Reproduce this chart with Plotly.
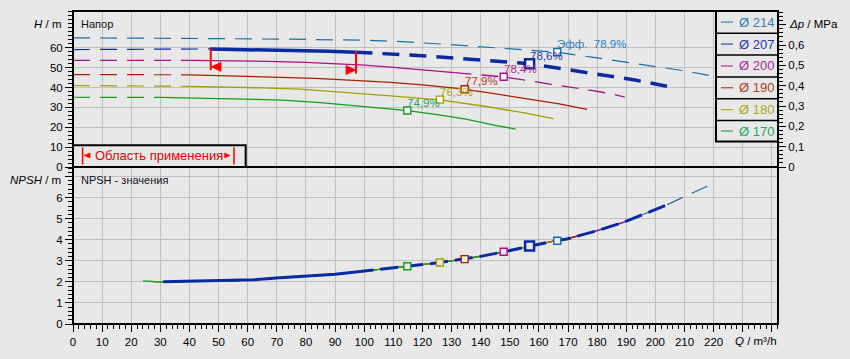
import plotly.graph_objects as go

# ---------------- data ----------------
diameters = ["Ø 214", "Ø 207", "Ø 200", "Ø 190", "Ø 180", "Ø 170"]
line_colors = ["#1670a8", "#0a2aa0", "#a8108e", "#a82000", "#a0a000", "#10a018"]
text_colors = ["#2a80b8", "#2a38a8", "#b0289a", "#b04020", "#a8a818", "#20a860"]

q214 = [0, 30, 50, 75, 90, 100, 111, 123, 131, 139, 151, 166, 178, 190, 199, 210, 220]
h214 = [65.0, 64.9, 64.6, 64.3, 64.1, 63.8, 63.2, 62.3, 61.5, 60.6, 59.2, 57.8, 55.3, 52.6, 50.7, 48.4, 45.7]

q207 = [0, 25, 47, 57, 68, 78, 88, 97, 113, 123, 134, 144, 157, 164, 174, 183, 193, 204]
h207 = [59.1, 59.2, 59.4, 59.2, 58.8, 58.6, 58.2, 57.8, 56.7, 55.7, 54.5, 53.2, 51.9, 50.3, 48.2, 46.3, 43.8, 40.6]

q200 = [0, 20, 40, 55, 67, 80, 90, 100, 109, 120, 131, 148, 157, 166, 176, 185, 189.5]
h200 = [53.7, 53.7, 53.7, 53.5, 53.2, 52.6, 52.0, 51.3, 50.3, 49.0, 47.5, 45.3, 43.3, 41.4, 39.0, 36.8, 35.2]

q190 = [0, 20, 40, 52, 66, 76, 83, 90, 96, 109, 120, 132, 143, 155, 167, 176.5]
h190 = [46.5, 46.5, 46.4, 46.0, 45.4, 44.9, 44.6, 44.1, 43.6, 42.6, 41.3, 39.6, 37.3, 34.5, 31.8, 29.0]

q180 = [0, 20, 40, 55, 65, 78, 90, 109, 126, 143, 155, 165]
h180 = [41.0, 40.9, 40.6, 40.2, 39.8, 39.2, 38.0, 35.8, 33.8, 30.2, 27.2, 24.3]

q170 = [0, 20, 30, 45, 60, 72, 85, 95, 109, 115, 125, 135, 145, 152]
h170 = [35.1, 35.1, 35.0, 34.5, 34.1, 33.7, 32.4, 31.0, 29.1, 28.4, 26.4, 24.1, 21.0, 19.1]

head_q = [q214, q207, q200, q190, q180, q170]
head_h = [h214, h207, h200, h190, h180, h170]

# operating (solid) range of each head curve; None = dashed everywhere
solid_from = [None, 47, 40, 40, 40, 30]
solid_to = [None, 97, 131, 176.5, 165, 152]

bep_q = [166.3, 156.8, 147.9, 134.5, 126.0, 114.8]
bep_h = [57.9, 52.0, 45.4, 39.1, 33.9, 28.4]
bep_label = ["Эфф.  78,9%", "78,6%", "78,4%", "77,9%", "76,3%", "74,9%"]
bep_npsh = [3.95, 3.70, 3.43, 3.08, 2.92, 2.74]

npsh_q = [24, 26, 28, 30, 31, 40, 55, 62, 71, 80, 90, 97, 100, 110, 115, 120, 126, 134.5, 140, 148, 152,
          157, 165, 170, 176.5, 180, 189.5, 197, 204, 210, 214, 220]
npsh_v = [2.05, 2.02, 2.01, 2.0, 2.0, 2.02, 2.05, 2.1, 2.19, 2.26, 2.36, 2.47, 2.52, 2.66, 2.74, 2.82, 2.92,
          3.08, 3.21, 3.43, 3.55, 3.70, 3.93, 4.05, 4.30, 4.43, 4.85, 5.25, 5.66, 6.05, 6.30, 6.68]
npsh_start = [31, 31, 30, 28, 26, 24]
npsh_end = [220, 204, 189.5, 176.5, 165, 152]

x_ticks = list(range(0, 241, 10))
x_ticklabels = [str(v) if v <= 220 else "" for v in x_ticks]
h_ticks = list(range(0, 61, 10))
npsh_ticks = list(range(0, 8))
npsh_ticklabels = [str(v) for v in range(0, 7)] + [""]
dp_ticks = [0, 0.1, 0.2, 0.3, 0.4, 0.5, 0.6, 0.7]
dp_ticklabels = ["0", "0,1", "0,2", "0,3", "0,4", "0,5", "0,6", ""]

# ---------------- styling ----------------
BG = "#e8e8e8"
GRID = "#c0c0c0"
FONT = "Liberation Sans, Arial, sans-serif"
W, H = 850, 359
ML, MR, MT, MB = 73, 72, 11, 33
PW, PH = W - ML - MR, H - MT - MB
split_px = 168
split = (MT + PH - split_px) / PH  # paper fraction of boundary


def py(ypx):
    return (MT + PH - ypx) / PH


def px(xpx):
    return (xpx - ML) / PW


def seg(q, v, a, b):
    qq, vv = [], []
    for qi, vi in zip(q, v):
        if a <= qi <= b:
            qq.append(qi)
            vv.append(vi)
    return qq, vv


DASH = "17px,10px"
fig = go.Figure()

# ---- head curves ----
order = [5, 4, 3, 2, 0, 1]
for i in order:
    q, h, c = head_q[i], head_h[i], line_colors[i]
    if solid_from[i] is None:
        fig.add_trace(go.Scatter(x=q, y=h, mode="lines", line=dict(color=c, width=1.2, dash=DASH),
                                 xaxis="x", yaxis="y", hoverinfo="skip"))
        continue
    a, b = solid_from[i], solid_to[i]
    thick = 3.5 if i == 1 else 1.3
    qq, hh = seg(q, h, 0, a)
    fig.add_trace(go.Scatter(x=qq, y=hh, mode="lines", line=dict(color=c, width=1.2, dash=DASH),
                             xaxis="x", yaxis="y", hoverinfo="skip"))
    qq, hh = seg(q, h, a, b)
    fig.add_trace(go.Scatter(x=qq, y=hh, mode="lines", line=dict(color=c, width=thick),
                             xaxis="x", yaxis="y", hoverinfo="skip"))
    qq, hh = seg(q, h, b, 1000)
    if len(qq) > 1:
        fig.add_trace(go.Scatter(x=qq, y=hh, mode="lines", line=dict(color=c, width=thick, dash=DASH),
                                 xaxis="x", yaxis="y", hoverinfo="skip"))

# ---- NPSH curves ----
for i in [0, 2, 3, 4, 5]:
    qq, vv = seg(npsh_q, npsh_v, npsh_start[i], npsh_end[i])
    fig.add_trace(go.Scatter(x=qq, y=vv, mode="lines",
                             line=dict(color=line_colors[i], width=1.2, dash=DASH if i == 0 else "solid"),
                             xaxis="x", yaxis="y2", hoverinfo="skip"))
qq, vv = seg(npsh_q, npsh_v, npsh_start[1], solid_to[1])
fig.add_trace(go.Scatter(x=qq, y=vv, mode="lines", line=dict(color=line_colors[1], width=3),
                         xaxis="x", yaxis="y2", hoverinfo="skip"))
qq, vv = seg(npsh_q, npsh_v, solid_to[1], npsh_end[1])
fig.add_trace(go.Scatter(x=qq, y=vv, mode="lines", line=dict(color=line_colors[1], width=3, dash="18px,7px"),
                         xaxis="x", yaxis="y2", hoverinfo="skip"))

# ---- BEP squares ----
for i in range(6):
    big = (i == 1)
    fig.add_trace(go.Scatter(x=[bep_q[i]], y=[bep_h[i]], mode="markers",
                             marker=dict(symbol="square", size=9 if big else 7, color="white",
                                         line=dict(color=line_colors[i], width=2.5 if big else 1.4)),
                             xaxis="x", yaxis="y", hoverinfo="skip"))
    fig.add_trace(go.Scatter(x=[bep_q[i]], y=[bep_npsh[i]], mode="markers",
                             marker=dict(symbol="square", size=9 if big else 7, color=BG,
                                         line=dict(color=line_colors[i], width=2.5 if big else 1.4)),
                             xaxis="x", yaxis="y2", hoverinfo="skip"))

# dummy trace for the right axis
fig.add_trace(go.Scatter(x=[0], y=[0], mode="markers", marker=dict(opacity=0), xaxis="x", yaxis="y3",
                         hoverinfo="skip"))

annotations = []
for i in range(6):
    annotations.append(dict(x=bep_q[i], y=bep_h[i], xref="x", yref="y", text=bep_label[i],
                            showarrow=False, xanchor="left", yanchor="middle", xshift=-2, yshift=8,
                            font=dict(family=FONT, size=11.5, color=text_colors[i])))

# panel labels
annotations += [
    dict(x=px(79), y=py(24.5), xref="paper", yref="paper", text="Напор", showarrow=False,
         xanchor="left", yanchor="middle", font=dict(family=FONT, size=11, color="#101020")),
    dict(x=px(79), y=py(181.5), xref="paper", yref="paper", text="NPSH - значения", showarrow=False,
         xanchor="left", yanchor="middle", font=dict(family=FONT, size=11, color="#101020")),
    dict(x=px(63), y=py(24.5), xref="paper", yref="paper", text="<i>H</i> / m", showarrow=False,
         xanchor="right", yanchor="middle", font=dict(family=FONT, size=11.5, color="black")),
    dict(x=px(63), y=py(181.5), xref="paper", yref="paper", text="<i>NPSH</i> / m", showarrow=False,
         xanchor="right", yanchor="middle", font=dict(family=FONT, size=11.5, color="black")),
    dict(x=px(787), y=py(24.5), xref="paper", yref="paper", text="<i>Δp</i> / MPa", showarrow=False,
         xanchor="left", yanchor="middle", font=dict(family=FONT, size=11.5, color="black")),
    dict(x=px(779), y=py(343), xref="paper", yref="paper", text="<i>Q</i> / m³/h", showarrow=False,
         xanchor="right", yanchor="middle", font=dict(family=FONT, size=11.5, color="black")),
    dict(x=29.5, y=5.9, xref="x", yref="y", text="Область применения", showarrow=False,
         xanchor="center", yanchor="middle", font=dict(family=FONT, size=13, color="#e00000")),
]

shapes = []
RED = "#ff0000"
# application range markers on Ø207 curve
shapes += [
    dict(type="line", xref="x", yref="y", x0=47.3, x1=47.3, y0=48.7, y1=59.6, line=dict(color=RED, width=2)),
    dict(type="path", xref="x", yref="y", path="M 47.5,50.4 L 50.8,52.6 L 50.8,48.2 Z",
         fillcolor=RED, line=dict(color=RED, width=1)),
    dict(type="line", xref="x", yref="y", x0=97.2, x1=97.2, y0=47.0, y1=58.2, line=dict(color=RED, width=2)),
    dict(type="path", xref="x", yref="y", path="M 96.9,48.8 L 93.8,51.0 L 93.8,46.6 Z",
         fillcolor=RED, line=dict(color=RED, width=1)),
]
# "Область применения" box
shapes += [
    dict(type="rect", xref="x", yref="y", x0=0, x1=59.3, y0=0, y1=11, fillcolor=BG,
         line=dict(color="black", width=2), layer="above"),
    dict(type="line", xref="x", yref="y", x0=3.3, x1=3.3, y0=1.3, y1=9.9, line=dict(color=RED, width=1.5)),
    dict(type="path", xref="x", yref="y", path="M 3.7,5.8 L 5.9,7.1 L 5.9,4.5 Z", fillcolor=RED,
         line=dict(color=RED, width=0.5)),
    dict(type="line", xref="x", yref="y", x0=55.3, x1=55.3, y0=1.3, y1=9.9, line=dict(color=RED, width=1.5)),
    dict(type="path", xref="x", yref="y", path="M 54.0,5.8 L 52.0,7.1 L 52.0,4.5 Z", fillcolor=RED,
         line=dict(color=RED, width=0.5)),
]
# legend box
lx0, lx1 = px(716), 1.0
row_edges = [11, 33.3, 55.3, 77.3, 99.3, 121.3, 142.3]
shapes.append(dict(type="rect", xref="paper", yref="paper", x0=lx0, x1=lx1, y0=py(row_edges[-1]), y1=1,
                   fillcolor=BG, line=dict(color="black", width=2), layer="above"))
for k in range(1, 6):
    shapes.append(dict(type="line", xref="paper", yref="paper", x0=lx0, x1=lx1, y0=py(row_edges[k]),
                       y1=py(row_edges[k]), line=dict(color="black", width=1.5), layer="above"))
for k, name in enumerate(diameters):
    yc = (row_edges[k] + row_edges[k + 1]) / 2
    shapes.append(dict(type="line", xref="paper", yref="paper", x0=px(721), x1=px(733), y0=py(yc), y1=py(yc),
                       line=dict(color=line_colors[k], width=1), layer="above"))
    annotations.append(dict(x=px(737), y=py(yc), xref="paper", yref="paper", text=name, showarrow=False,
                            xanchor="left", yanchor="middle",
                            font=dict(family=FONT, size=13, color=text_colors[k])))
# frame
shapes += [
    dict(type="rect", xref="paper", yref="paper", x0=0, x1=1, y0=0, y1=1, line=dict(color="black", width=2),
         layer="above"),
    dict(type="line", xref="paper", yref="paper", x0=0, x1=1, y0=split, y1=split,
         line=dict(color="black", width=2), layer="above"),
]

tickfont = dict(family=FONT, size=11.5, color="black")
fig.update_layout(
    width=W, height=H, margin=dict(l=ML, r=MR, t=MT, b=MB, pad=0),
    paper_bgcolor=BG, plot_bgcolor=BG, showlegend=False,
    xaxis=dict(domain=[0, 1], range=[0, 242.1], anchor="y2", tickmode="array", tickvals=x_ticks,
               ticktext=x_ticklabels, ticks="outside", ticklen=7, tickcolor="black", tickwidth=1,
               showgrid=True, gridcolor=GRID, gridwidth=1, zeroline=False, showline=False,
               tickfont=tickfont,
               minor=dict(tickvals=[v for v in range(0, 243, 2) if v % 10], ticks="outside", ticklen=4,
                          tickcolor="black", showgrid=False)),
    yaxis=dict(domain=[split, 1], range=[0, (split_px - MT) / 2.0], anchor="x", tickmode="array",
               tickvals=h_ticks, ticks="outside", ticklen=7, tickcolor="black", showgrid=True,
               gridcolor=GRID, zeroline=False, showline=False, tickfont=tickfont,
               minor=dict(tickvals=[v for v in range(0, 79, 2) if v % 10 or v == 70], ticks="outside",
                          ticklen=4, tickcolor="black", showgrid=False)),
    yaxis2=dict(domain=[0, split], range=[0, (MT + PH - split_px) / 21.2], anchor="x", tickmode="array",
                tickvals=npsh_ticks, ticktext=npsh_ticklabels, ticks="outside", ticklen=7,
                tickcolor="black", showgrid=True, gridcolor=GRID, zeroline=False, showline=False,
                tickfont=tickfont,
                minor=dict(tickvals=[round(v * 0.2, 2) for v in range(0, 38) if v % 5], ticks="outside",
                           ticklen=4, tickcolor="black", showgrid=False)),
    yaxis3=dict(overlaying="y", side="right", anchor="x", range=[0, (split_px - MT) / 204.5],
                tickmode="array", tickvals=dp_ticks, ticktext=dp_ticklabels, ticks="outside", ticklen=7,
                tickcolor="black", showgrid=False, zeroline=False, showline=False, tickfont=tickfont,
                minor=dict(tickvals=[round(v * 0.02, 3) for v in range(0, 39) if v % 5], ticks="outside",
                           ticklen=4, tickcolor="black", showgrid=False)),
    annotations=annotations, shapes=shapes,
)

fig.write_html("out.html", config={"displayModeBar": False},
               post_script="document.body.style.margin='0';document.body.style.padding='0';"
                           "document.body.style.overflow='hidden';")
